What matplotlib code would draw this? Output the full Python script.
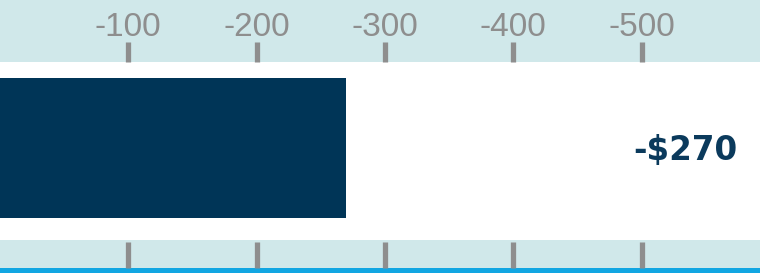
import matplotlib
matplotlib.use("Agg")
import matplotlib.pyplot as plt

# Data
categories = ["Change"]
values = [-270]
value_labels = ["-$270"]
tick_values = [-100, -200, -300, -400, -500]
tick_labels = ["-100", "-200", "-300", "-400", "-500"]

W, H = 760, 273
fig = plt.figure(figsize=(W / 100, H / 100), dpi=100)
ax = fig.add_axes([0, 0, 1, 1])
px_per_unit = 1.283
ax.set_xlim(0, -W / px_per_unit)
ax.set_ylim(H, 0)
ax.axis("off")

band = "#d0e8ea"
ax.axhspan(0, 62, color=band, lw=0, zorder=0)
ax.axhspan(240, 268, color=band, lw=0, zorder=0)
ax.axhspan(268, H, color="#12a6e2", lw=0, zorder=0)

tick_col = "#8e8e8e"
for tv, tl in zip(tick_values, tick_labels):
    ax.vlines(tv, 42, 62, color=tick_col, lw=3.8, zorder=2)
    ax.vlines(tv, 242, 268, color=tick_col, lw=3.8, zorder=2)
    ax.text(tv, 36, tl, ha="center", va="baseline", color=tick_col,
            fontsize=24, family="Liberation Sans")

bar_col = "#003557"
for v, lab in zip(values, value_labels):
    ax.barh(148, v, height=140, left=0, color=bar_col, zorder=3)
    ax.text(-(737) / px_per_unit, 160, lab, ha="right", va="baseline",
            color="#0b3a5c", fontsize=23.5, fontweight="bold", family="DejaVu Sans")

fig.savefig("out.png", dpi=100)
